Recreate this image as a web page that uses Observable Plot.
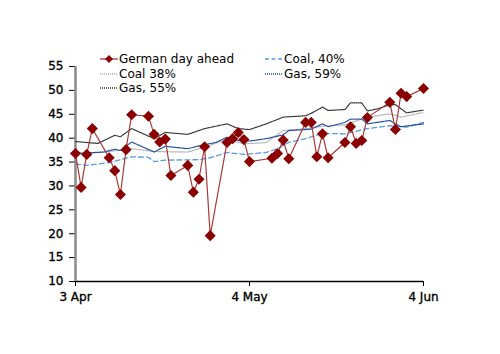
<!DOCTYPE html>
<html>
<head>
<meta charset="utf-8">
<script src="https://cdn.jsdelivr.net/npm/d3@7"></script>
<script src="https://cdn.jsdelivr.net/npm/@observablehq/plot@0.6"></script>
<style>
  html, body { margin: 0; padding: 0; background: #fff; }
  #wrap { position: relative; width: 500px; height: 354px; font-family: "DejaVu Sans", sans-serif; }
  .leg { position: absolute; font-size: 12px; color: #000; display: flex; align-items: center; white-space: nowrap; line-height: 14px; }
  .leg svg { display: block; margin-right: 1px; }
  #wrap g[aria-label="y-axis tick label"] text, #wrap g[aria-label="x-axis tick label"] text { stroke: #000; stroke-width: 0.35px; }
</style>
</head>
<body>
<div id="wrap"></div>
<script>
// ---- Data ----
const xTicks = ["2012-04-03", "2012-05-04", "2012-06-04"];
const yTicks = [10, 15, 20, 25, 30, 35, 40, 45, 50, 55];

const germanDates = ["2012-04-03","2012-04-04","2012-04-05","2012-04-06","2012-04-09","2012-04-10","2012-04-11","2012-04-12","2012-04-13",
  "2012-04-16","2012-04-17","2012-04-18","2012-04-19","2012-04-20","2012-04-23","2012-04-24","2012-04-25","2012-04-26","2012-04-27",
  "2012-04-30","2012-05-01","2012-05-02","2012-05-03","2012-05-04","2012-05-08","2012-05-09","2012-05-10","2012-05-11",
  "2012-05-14","2012-05-15","2012-05-16","2012-05-17","2012-05-18","2012-05-21","2012-05-22","2012-05-23","2012-05-24","2012-05-25",
  "2012-05-29","2012-05-30","2012-05-31","2012-06-01","2012-06-04"];
const germanValues = [36.8,29.7,36.6,42.0,35.9,33.2,28.2,37.6,44.9,
  44.6,40.8,39.2,39.8,32.2,34.3,28.7,31.4,38.2,19.6,
  39.1,39.9,41.2,39.7,35.1,35.8,36.8,39.6,35.7,
  43.3,43.3,36.1,40.9,35.9,39.1,42.4,38.9,39.5,44.3,
  47.5,41.8,49.4,48.7,50.4];

const gas55Dates = ["2012-04-03","2012-04-07","2012-04-10","2012-04-11","2012-04-13","2012-04-17","2012-04-19","2012-04-23","2012-04-26",
  "2012-04-30","2012-05-02","2012-05-04","2012-05-07","2012-05-10","2012-05-14","2012-05-15","2012-05-17","2012-05-18","2012-05-21",
  "2012-05-22","2012-05-24","2012-05-25","2012-05-27","2012-05-29","2012-05-30","2012-06-01","2012-06-04"];
const gas55Values = [39.3,38.9,40.6,40.3,42.0,39.9,41.2,40.8,42.0,
  43.0,42.0,41.8,43.0,44.4,44.7,45.2,46.5,45.8,46.0,
  47.4,47.4,45.7,46.2,47.0,47.0,45.3,45.9];

const gas59Dates = ["2012-04-03","2012-04-08","2012-04-10","2012-04-11","2012-04-13","2012-04-17","2012-04-19","2012-04-23","2012-04-25",
  "2012-04-28","2012-04-30","2012-05-02","2012-05-04","2012-05-07","2012-05-10","2012-05-11","2012-05-14","2012-05-15","2012-05-17",
  "2012-05-18","2012-05-21","2012-05-22","2012-05-24","2012-05-25","2012-05-29","2012-05-30","2012-05-31","2012-06-04"];
const gas59Values = [36.8,37.1,37.7,37.4,39.2,37.1,38.3,37.8,38.4,
  39.1,40.2,39.5,39.4,39.9,40.7,41.6,41.8,41.9,43.0,
  42.4,43.3,44.0,44.0,43.0,43.7,43.0,42.4,43.0];

const coal38Dates = ["2012-04-03","2012-04-09","2012-04-13","2012-04-17","2012-04-23","2012-04-26","2012-04-30","2012-05-03","2012-05-07",
  "2012-05-10","2012-05-14","2012-05-17","2012-05-21","2012-05-25","2012-05-29","2012-05-31","2012-06-04"];
const coal38Values = [36.6,37.2,37.8,37.2,37.1,38.1,39.8,38.8,39.1,
  41.6,42.0,42.5,42.8,44.4,45.1,44.4,45.4];

const coal40Dates = ["2012-04-03","2012-04-05","2012-04-09","2012-04-13","2012-04-16","2012-04-17","2012-04-19","2012-04-25","2012-04-27",
  "2012-04-30","2012-05-03","2012-05-07","2012-05-09","2012-05-11","2012-05-14","2012-05-17","2012-05-21","2012-05-25","2012-05-29",
  "2012-06-01","2012-06-04"];
const coal40Values = [34.6,34.3,34.9,36.1,36.0,35.1,35.4,35.5,35.9,
  37.0,36.6,37.0,37.8,39.1,39.9,41.0,40.9,42.0,42.6,
  42.3,43.3];

// ---- Build ----
const parse = d3.utcParse("%Y-%m-%d");
const rows = (ds, vs) => ds.map((d, i) => ({date: parse(d), value: vs[i]}));
const german = rows(germanDates, germanValues);
const gas55 = rows(gas55Dates, gas55Values);
const gas59 = rows(gas59Dates, gas59Values);
const coal38 = rows(coal38Dates, coal38Values);
const coal40 = rows(coal40Dates, coal40Values);
const tickDates = xTicks.map(parse);
const fmt = d3.utcFormat("%-d %b");

const COL = {
  german: "#8b0000", germanLine: "#a83a3a",
  gas55: "#333333", gas59: "#1f4e9e", coal38: "#b4b4b4", coal40: "#5a9be0"
};

const chart = Plot.plot({
  width: 500, height: 354,
  marginLeft: 75, marginRight: 77, marginTop: 66, marginBottom: 73,
  style: {fontFamily: "DejaVu Sans, sans-serif", fontSize: "12px", color: "#000", background: "white"},
  x: {type: "utc", domain: [tickDates[0], tickDates[tickDates.length - 1]]},
  y: {domain: [yTicks[0], yTicks[yTicks.length - 1]]},
  marks: [
    Plot.axisY({ticks: yTicks, tickSize: 6, tickPadding: 6, label: null, stroke: "#000"}),
    Plot.axisX({ticks: tickDates, tickFormat: fmt, tickSize: 5, tickPadding: 6, label: null, stroke: "#000"}),
    Plot.ruleY([yTicks[0]], {stroke: "#000", strokeWidth: 1.5}),
    Plot.ruleX([tickDates[0]], {stroke: "#8a8a8a", strokeWidth: 2.5}),
    Plot.line(coal40, {x: "date", y: "value", stroke: COL.coal40, strokeWidth: 1.3, strokeDasharray: "5,3"}),
    Plot.line(coal38, {x: "date", y: "value", stroke: COL.coal38, strokeWidth: 1.2, strokeDasharray: "1,1"}),
    Plot.line(gas59, {x: "date", y: "value", stroke: COL.gas59, strokeWidth: 1.2, strokeDasharray: "1,1"}),
    Plot.line(gas55, {x: "date", y: "value", stroke: COL.gas55, strokeWidth: 1.2, strokeDasharray: "1,1"}),
    Plot.line(german, {x: "date", y: "value", stroke: COL.germanLine, strokeWidth: 1.2}),
    Plot.dot(german, {x: "date", y: "value", symbol: "diamond2", r: 5, fill: COL.german, stroke: "none"})
  ]
});

const wrap = document.getElementById("wrap");
wrap.appendChild(chart);

// ---- Legend (overlay) ----
const legendItems = [
  {label: "German day ahead", left: 100, top: 59, color: COL.germanLine, dash: null, marker: true},
  {label: "Coal 38%", left: 100, top: 73.5, color: COL.coal38, dash: "1,1"},
  {label: "Gas, 55%", left: 100, top: 88, color: COL.gas55, dash: "1,1"},
  {label: "Coal, 40%", left: 265, top: 59, color: COL.coal40, dash: "4,2.5"},
  {label: "Gas, 59%", left: 265, top: 73.5, color: COL.gas59, dash: "1,1"}
];
for (const it of legendItems) {
  const div = document.createElement("div");
  div.className = "leg";
  div.style.left = it.left + "px";
  div.style.top = (it.top - 7) + "px";
  const sw = `<svg width="18" height="14" viewBox="0 0 18 14">
    <line x1="0" y1="7" x2="18" y2="7" stroke="${it.color}" stroke-width="1.3" ${it.dash ? `stroke-dasharray="${it.dash}"` : ""}/>
    ${it.marker ? `<path d="M9,3 L13,7 L9,11 L5,7 Z" fill="${COL.german}"/>` : ""}
  </svg>`;
  div.innerHTML = sw + `<span>${it.label}</span>`;
  wrap.appendChild(div);
}
</script>
</body>
</html>
